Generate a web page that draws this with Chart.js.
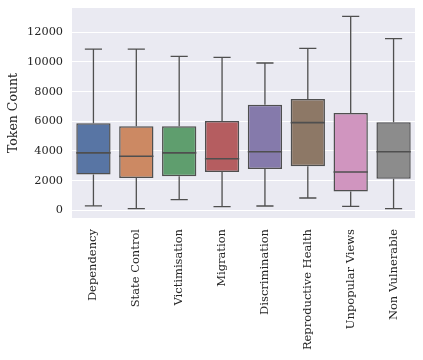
<!DOCTYPE html>
<html>
<head>
<meta charset="utf-8">
<script src="https://cdn.jsdelivr.net/npm/chart.js@4/dist/chart.umd.min.js"></script>
<style>
html,body{margin:0;padding:0;background:#fff;}
#wrap{width:423px;height:360px;}
</style>
</head>
<body>
<div id="wrap"><canvas id="c" width="423" height="360"></canvas></div>
<script>
const categories = ["Dependency","State Control","Victimisation","Migration","Discrimination","Reproductive Health","Unpopular Views","Non Vulnerable"];
const whiskerLow  = [300, 110, 720, 250, 290, 830, 270, 110];
const q1          = [2420, 2180, 2290, 2580, 2790, 2970, 1260, 2130];
const median      = [3870, 3640, 3870, 3480, 3950, 5910, 2580, 3950];
const q3          = [5870, 5660, 5660, 6020, 7120, 7500, 6560, 5930];
const whiskerHigh = [10870, 10870, 10380, 10310, 9930, 10920, 13070, 11570];
const yTicks = [0, 2000, 4000, 6000, 8000, 10000, 12000];
const boxColors = ["#5875a4","#cc8963","#5f9e6e","#b55d60","#857aab","#8d7866","#d095bf","#8c8c8c"];

const lineColor = "#4f4f4f";
const fontFam = "'DejaVu Serif', serif";
const textColor = "#262626";

const boxPlugin = {
  id: 'boxWhiskers',
  beforeDraw(chart) {
    const {ctx, chartArea} = chart;
    ctx.save();
    ctx.fillStyle = "#eaeaf2";
    ctx.fillRect(chartArea.left, chartArea.top, chartArea.right - chartArea.left, chartArea.bottom - chartArea.top);
    ctx.restore();
  },
  afterDatasetsDraw(chart) {
    const {ctx} = chart;
    const xs = chart.scales.x, ys = chart.scales.y;
    const meta = chart.getDatasetMeta(0);
    ctx.save();
    ctx.strokeStyle = lineColor;
    ctx.lineWidth = 1.3;
    categories.forEach((c, i) => {
      const x = xs.getPixelForValue(i);
      const bw = meta.data[i].width;
      const capHalf = bw / 4;
      const yLo = ys.getPixelForValue(whiskerLow[i]);
      const yQ1 = ys.getPixelForValue(q1[i]);
      const yQ3 = ys.getPixelForValue(q3[i]);
      const yHi = ys.getPixelForValue(whiskerHigh[i]);
      const yMed = ys.getPixelForValue(median[i]);
      ctx.beginPath();
      ctx.moveTo(x, yQ1); ctx.lineTo(x, yLo);
      ctx.moveTo(x - capHalf, yLo); ctx.lineTo(x + capHalf, yLo);
      ctx.moveTo(x, yQ3); ctx.lineTo(x, yHi);
      ctx.moveTo(x - capHalf, yHi); ctx.lineTo(x + capHalf, yHi);
      ctx.stroke();
      ctx.beginPath();
      ctx.lineWidth = 1.6;
      ctx.moveTo(x - bw / 2, yMed); ctx.lineTo(x + bw / 2, yMed);
      ctx.stroke();
      ctx.lineWidth = 1.3;
    });
    ctx.restore();
  }
};

new Chart(document.getElementById('c'), {
  type: 'bar',
  data: {
    labels: categories,
    datasets: [{
      data: categories.map((c, i) => [q1[i], q3[i]]),
      backgroundColor: boxColors,
      borderColor: lineColor,
      borderWidth: 1.5,
      borderSkipped: false,
      barPercentage: 0.8,
      categoryPercentage: 1.0
    }]
  },
  options: {
    responsive: false,
    animation: false,
    devicePixelRatio: 1,
    layout: {padding: {top: 8, right: 8, left: 0, bottom: 0}},
    plugins: {legend: {display: false}, tooltip: {enabled: false}},
    scales: {
      x: {
        grid: {display: false, drawTicks: false},
        border: {display: false},
        ticks: {
          color: textColor, font: {family: fontFam, size: 11.5},
          minRotation: 90, maxRotation: 90, padding: 11, autoSkip: false
        },
        afterFit(s) { s.height = 142; s.paddingLeft = 0; s.paddingRight = 0; }
      },
      y: {
        min: -520, max: 13640,
        grid: {color: "#ffffff", lineWidth: 1, drawTicks: false},
        border: {display: false},
        afterBuildTicks(s) { s.ticks = yTicks.map(v => ({value: v})); },
        ticks: {
          color: textColor, font: {family: fontFam, size: 11.3}, padding: 9,
          callback: v => String(v)
        },
        title: {display: true, text: "Token Count", color: textColor, font: {family: fontFam, size: 12.5}, padding: {top: 6, bottom: 4}},
        afterFit(s) { s.width = 72; s.paddingTop = 0; s.paddingBottom = 0; }
      }
    }
  },
  plugins: [boxPlugin]
});
</script>
</body>
</html>
